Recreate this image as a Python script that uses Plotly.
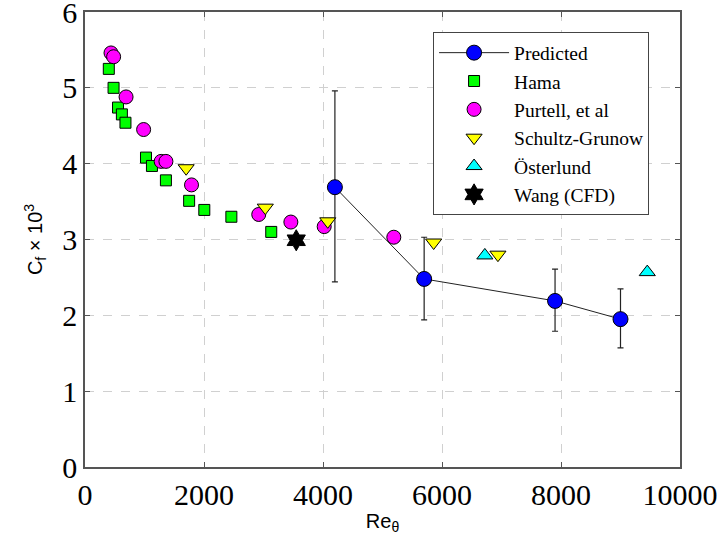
import plotly.graph_objects as go

# Data
pred_x = [4200, 5700, 7900, 9000]
pred_y = [3.69, 2.48, 2.19, 1.95]
pred_err_plus = [1.27, 0.55, 0.42, 0.40]
pred_err_minus = [1.25, 0.54, 0.40, 0.38]

hama_x = [400, 480, 555, 620, 680, 1025, 1125, 1360, 1750, 2005, 2460, 3130]
hama_y = [5.25, 5.00, 4.74, 4.65, 4.54, 4.08, 3.97, 3.78, 3.51, 3.39, 3.30, 3.10]

purtell_x = [437, 481, 690, 985, 1280, 1360, 1790, 2920, 3460, 4020, 5190]
purtell_y = [5.46, 5.41, 4.88, 4.45, 4.03, 4.03, 3.72, 3.33, 3.23, 3.17, 3.03]

schultz_x = [1700, 3030, 4080, 5860, 6940]
schultz_y = [3.94, 3.42, 3.24, 2.96, 2.80]

osterlund_x = [6720, 9450]
osterlund_y = [2.79, 2.57]

wang_x = [3550]
wang_y = [2.99]

x_ticks = [0, 2000, 4000, 6000, 8000, 10000]
y_ticks = [0, 1, 2, 3, 4, 5, 6]

serif = "Liberation Serif"
sans = "Liberation Sans"
mline = dict(color="black", width=1)

fig = go.Figure()
fig.add_trace(go.Scatter(x=hama_x, y=hama_y, mode="markers", name="Hama", legendrank=2,
                         marker=dict(symbol="square", size=11, color="#00ff00", line=mline)))
fig.add_trace(go.Scatter(x=purtell_x, y=purtell_y, mode="markers", name="Purtell, et al", legendrank=3,
                         marker=dict(symbol="circle", size=14, color="#ff00ff", line=mline)))
fig.add_trace(go.Scatter(x=schultz_x, y=schultz_y, mode="markers", name="Schultz-Grunow", legendrank=4,
                         marker=dict(symbol="triangle-down", size=14, color="#ffff00", line=mline)))
fig.add_trace(go.Scatter(x=osterlund_x, y=osterlund_y, mode="markers", name="Österlund", legendrank=5,
                         marker=dict(symbol="triangle-up", size=14, color="#00ffff", line=mline)))
fig.add_trace(go.Scatter(x=wang_x, y=wang_y, mode="markers", name="Wang (CFD)", legendrank=6,
                         marker=dict(symbol="hexagram", size=16, color="black", line=mline)))
fig.add_trace(go.Scatter(x=pred_x, y=pred_y, mode="lines+markers", name="Predicted", legendrank=1,
                         line=dict(color="#222222", width=1),
                         marker=dict(symbol="circle", size=15, color="#0000ff", line=mline),
                         error_y=dict(type="data", symmetric=False, array=pred_err_plus,
                                      arrayminus=pred_err_minus, color="#222222",
                                      thickness=1.2, width=3)))

axis_common = dict(showline=True, linecolor="#555555", linewidth=1.5, mirror="ticks",
                   ticks="inside", ticklen=5, tickcolor="#555555",
                   showgrid=True, gridcolor="#d0d0d0", griddash="dash", gridwidth=1,
                   zeroline=False, automargin=False, ticklabeloverflow="allow",
                   tickfont=dict(family=serif, size=30, color="black"))

fig.update_layout(
    width=722, height=543,
    margin=dict(l=85, r=42, t=12, b=76),
    paper_bgcolor="white", plot_bgcolor="white",
    showlegend=True,
    legend=dict(x=0.585, y=0.955, xanchor="left", yanchor="top",
                bgcolor="white", bordercolor="#444444", borderwidth=1,
                itemwidth=70,
                font=dict(family=serif, size=19.5, color="black"), tracegroupgap=0),
    xaxis=dict(range=[0, 10000], tickvals=x_ticks, ticktext=[str(v) for v in x_ticks],
               title=dict(text="Re<sub>θ</sub>", font=dict(family=sans, size=20, color="black"),
                          standoff=4),
               **axis_common),
    yaxis=dict(range=[0, 6], tickvals=y_ticks, ticktext=[str(v) for v in y_ticks],
               title=dict(text="C<sub>f</sub> × 10<sup>3</sup>", font=dict(family=sans, size=20, color="black"),
                          standoff=14),
               **axis_common),
)

fig.write_html("out.html", config={"displayModeBar": False},
               post_script="document.body.style.margin='0';")
